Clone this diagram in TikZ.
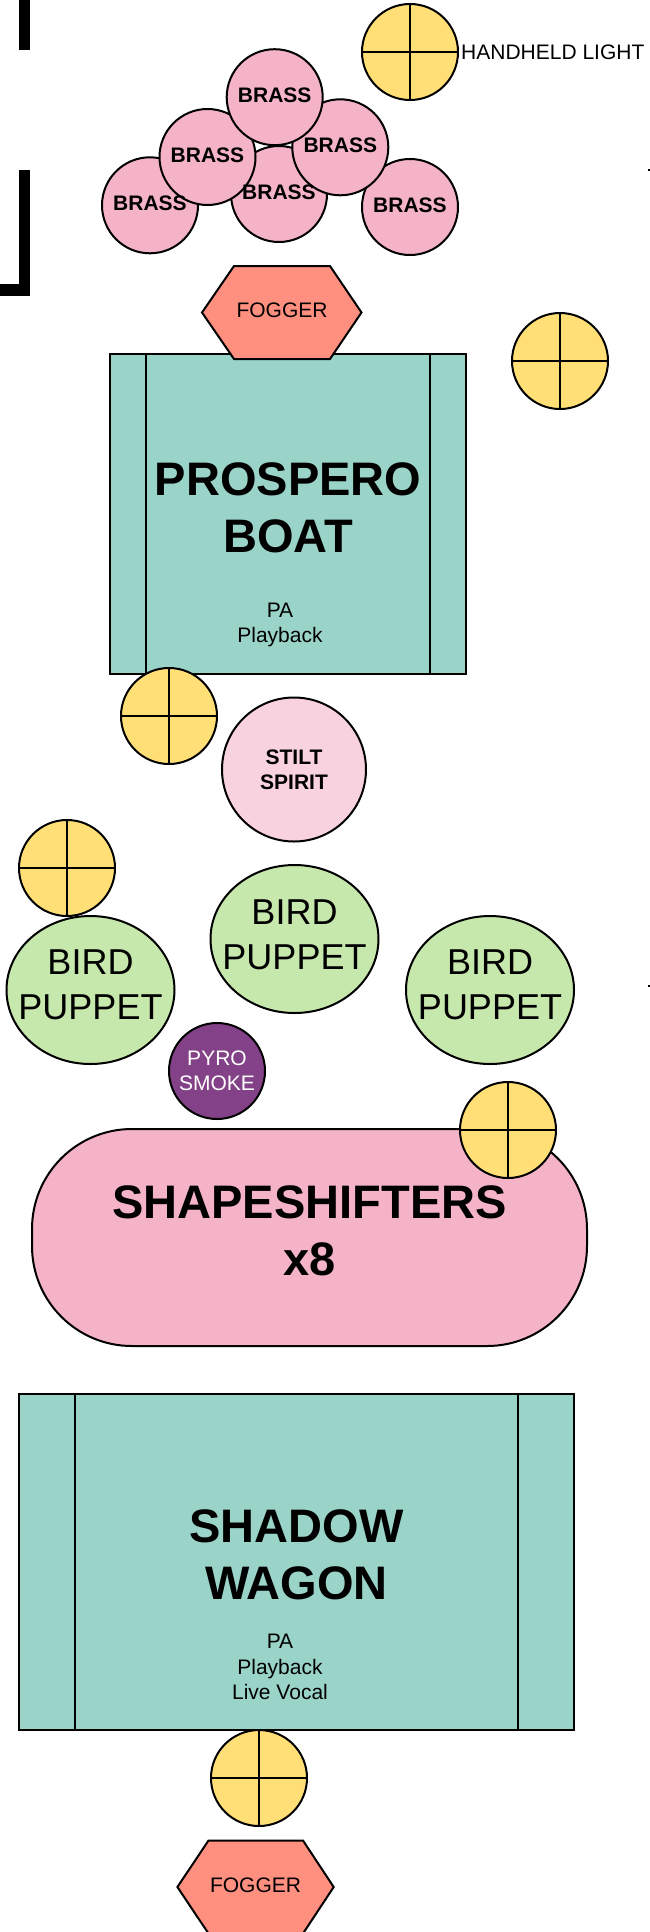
\documentclass[tikz,border=0pt]{standalone}
\usepackage{fontspec}
\setmainfont{Liberation Sans}
\usetikzlibrary{shapes.geometric,positioning}

\definecolor{boatgreen}{HTML}{9AD4C9}
\definecolor{brasspink}{HTML}{F4B3C6}
\definecolor{spiritpink}{HTML}{F8D2DE}
\definecolor{birdgreen}{HTML}{C7E8AD}
\definecolor{lampyellow}{HTML}{FFDF76}
\definecolor{fogred}{HTML}{FF8F7F}
\definecolor{pyropurple}{HTML}{834287}

\tikzset{
  smalltxt/.style={font=\fontsize{21}{25.5}\selectfont, align=center},
  smallbold/.style={font=\fontsize{21}{25}\selectfont\bfseries, align=center},
  birdtxt/.style={font=\fontsize{36}{45}\selectfont, align=center},
  bigbold/.style={font=\fontsize{47}{57}\selectfont\bfseries, align=center},
  outline/.style={draw, line width=2pt},
  lamp/.style={circle, outline, fill=lampyellow, minimum size=96pt,
    path picture={\draw[line width=2pt] (path picture bounding box.north) -- (path picture bounding box.south)
      (path picture bounding box.west) -- (path picture bounding box.east);}},
  brass/.style={circle, outline, fill=brasspink, minimum size=96pt},
  bird/.style={ellipse, outline, fill=birdgreen, minimum width=168pt, minimum height=148pt},
  wagon/.style={rectangle, outline, fill=boatgreen,
    path picture={\draw[line width=2pt] ([xshift=#1]path picture bounding box.north west) -- ([xshift=#1]path picture bounding box.south west)
      ([xshift=-#1]path picture bounding box.north east) -- ([xshift=-#1]path picture bounding box.south east);}},
  hexline/.style={outline, fill=fogred, line join=miter}
}

\begin{document}
\begin{tikzpicture}[x=1pt, y=-1pt, every node/.style={inner sep=0pt}]
\clip (0,0) rectangle (650,1932);
\fill[white] (0,0) rectangle (650,1932);

% walls
\fill (18.7,0) rectangle (29.9,50);
\fill (18.7,170) rectangle (29.9,296);
\fill (0,284) rectangle (29.9,296);
\fill (648,168.5) rectangle (650,171);
\fill (648,984.5) rectangle (650,987);

% brass section
\node[brass] (b5) at (150,205.3) {};
\node[brass] (b4) at (279,194) {};
\node[brass] (b6) at (410,207) {};
\node[brass] (b2) at (207.5,157) {};
\node[brass] (b3) at (340.3,147.3) {};
\node[brass] (b1) at (274.7,97.2) {};
\foreach \b in {b5,b4,b6,b2,b3,b1}
  \node[smallbold] (t\b) at ([yshift=2pt]\b) {BRASS};

\node[lamp] (hand) at (410,52) {};
\node[smalltxt, right=2pt of hand] (handlbl) {HANDHELD LIGHT};

% boat
\node[wagon=36pt, minimum width=356pt, minimum height=320pt] (boat) at (288,514) {};
\node[bigbold] (boattitle) at (288,508) {PROSPERO\\BOAT};
\node[smalltxt] (boatpa) at (280,625) {PA\\Playback};

\filldraw[hexline] (234,266) -- (330,266) -- (361.5,312.5) -- (330,359) -- (234,359) -- (202,312.5) -- cycle;
\node[smalltxt] (fogtop) at (282,310) {FOGGER};

\node[lamp] (lamp2) at (560,361) {};
\node[lamp] (lamp3) at (169,716) {};

\node[circle, outline, fill=spiritpink, minimum size=144pt, smallbold] (stilt) at (294,769.5) {STILT\\SPIRIT};

% puppets
\node[bird] (birdl) at (90.5,990) {};
\node[bird] (birdc) at (294.5,939) {};
\node[bird] (birdr) at (490,990) {};
\node[birdtxt] (birdltxt) at (90.5,985) {BIRD\\PUPPET};
\node[birdtxt] (birdctxt) at (294.5,935) {BIRD\\PUPPET};
\node[birdtxt] (birdrtxt) at (490,985) {BIRD\\PUPPET};
\node[lamp] (lamp4) at (67,868) {};

\node[circle, outline, fill=pyropurple, minimum size=96pt, smalltxt, text=white] (pyro) at (217,1071) {PYRO\\SMOKE};

\node[rectangle, outline, fill=brasspink, rounded corners=100pt, minimum width=555pt, minimum height=217pt] (shifters) at (309.5,1237.5) {};
\node[bigbold] (shiftlbl) at (309.5,1231) {SHAPESHIFTERS\\x8};
\node[lamp] (lamp5) at (508,1130) {};

% shadow wagon
\node[wagon=56pt, minimum width=555pt, minimum height=336pt] (shadow) at (296.3,1561.7) {};
\node[bigbold] (shadowtitle) at (296.5,1555) {SHADOW\\WAGON};
\node[smalltxt] (shadowpa) at (280,1667) {PA\\Playback\\Live Vocal};

\node[lamp] (lamp6) at (259,1778) {};
\filldraw[hexline] (208.5,1840.5) -- (303,1840.5) -- (333.7,1887) -- (303,1933.5) -- (208.5,1933.5) -- (177.4,1887) -- cycle;
\node[smalltxt] (fogbot) at (255.5,1885) {FOGGER};
\end{tikzpicture}
\end{document}
